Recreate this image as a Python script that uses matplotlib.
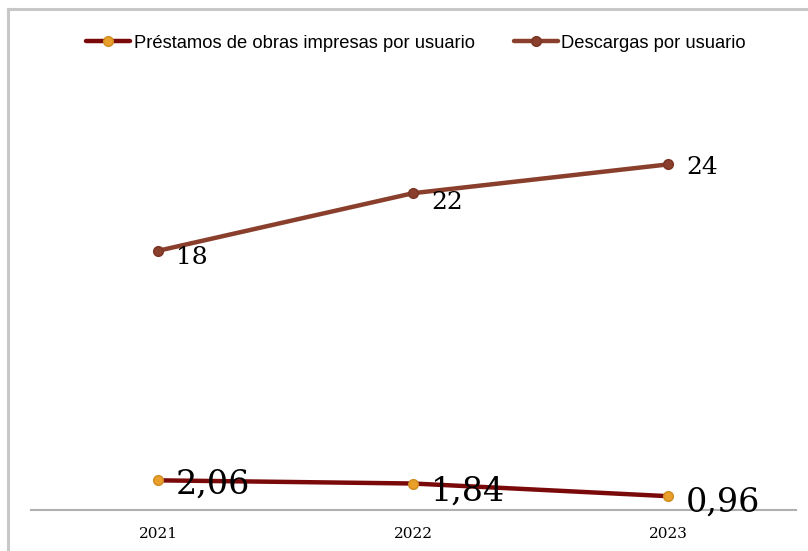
import matplotlib
matplotlib.use("Agg")
import matplotlib.pyplot as plt
from matplotlib.lines import Line2D

years = ["2021", "2022", "2023"]
prestamos = [2.06, 1.84, 0.96]
descargas = [18, 22, 24]
prestamos_labels = ["2,06", "1,84", "0,96"]
descargas_labels = ["18", "22", "24"]

fig = plt.figure(figsize=(8.08, 5.51), dpi=100)
ax = fig.add_axes([30.5/808, 1 - 510/551, (795.5 - 30.5)/808, (510 - 78)/551])

x = list(range(len(years)))
l1, = ax.plot(x, prestamos, color="#7a0a0a", lw=3.2, marker="o", ms=7,
              mfc="#e8a02a", mec="#d08a20", solid_capstyle="round")
l2, = ax.plot(x, descargas, color="#8a3e2c", lw=3.2, marker="o", ms=7,
              mfc="#8a3e2c", mec="#7a3424", solid_capstyle="round")

serif = ["DejaVu Serif"]
p_off = [(13, -9.4), (13, -12), (13, -11)]
d_off = [(13, -9.4), (13, -11.5), (13, -7.2)]
for i, (v, lab) in enumerate(zip(prestamos, prestamos_labels)):
    ax.annotate(lab, (i, v), xytext=p_off[i], textcoords="offset points",
                ha="left", va="baseline", fontsize=24, family=serif, color="black")
for i, (v, lab) in enumerate(zip(descargas, descargas_labels)):
    ax.annotate(lab, (i, v), xytext=d_off[i], textcoords="offset points",
                ha="left", va="baseline", fontsize=18, family=serif, color="black")

ax.set_xlim(-0.5, 2.5)
ax.set_ylim(0, 30)
ax.set_xticks(x)
ax.set_xticklabels(years, family=serif, fontsize=11)
ax.tick_params(axis="x", length=0, pad=12)
ax.set_yticks([])
for s in ["top", "right", "left"]:
    ax.spines[s].set_visible(False)
ax.spines["bottom"].set_color("#b0b0b0")
ax.spines["bottom"].set_linewidth(1.5)

fig.legend([l1, l2], ["Préstamos de obras impresas por usuario", "Descargas por usuario"],
           loc="upper center", bbox_to_anchor=(0.515, 0.967), ncol=2, frameon=False,
           prop={"family": ["Liberation Sans", "DejaVu Sans"], "size": 13.2},
           handlelength=2.4, handletextpad=0.2, columnspacing=2.1)

fig.add_artist(Line2D([8/808, 8/808], [0, 1 - 9/551], color="#c8c8c8", lw=2.2,
                      transform=fig.transFigure))
fig.add_artist(Line2D([8/808, 1], [1 - 9/551, 1 - 9/551], color="#c8c8c8", lw=2.2,
                      transform=fig.transFigure))

fig.savefig("out.png", dpi=100)
